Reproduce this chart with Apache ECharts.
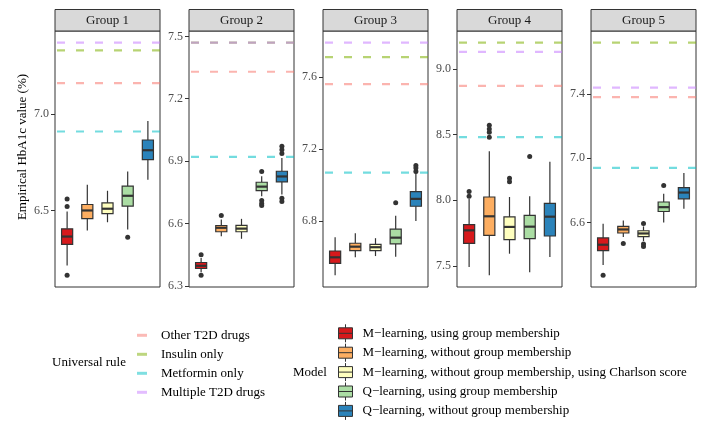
<!DOCTYPE html>
<html><head><meta charset="utf-8">
<script src="https://cdn.jsdelivr.net/npm/echarts@6.0.0/dist/echarts.min.js"></script>
<style>html,body{margin:0;padding:0;background:#fff}#c{width:716px;height:421px}</style>
</head><body><div id="c"></div>
<script>
// ---- data ----
const groups = ['Group 1', 'Group 2', 'Group 3', 'Group 4', 'Group 5'];
const models = [
  'M\u2212learning, using group membership',
  'M\u2212learning, without group membership',
  'M\u2212learning, without group membership, using Charlson score',
  'Q\u2212learning, using group membership',
  'Q\u2212learning, without group membership'
];
const ruleNames = ['Other T2D drugs', 'Insulin only', 'Metformin only', 'Multiple T2D drugs'];
// reference value of each universal rule, one per group
const ruleOther     = [7.16, 7.33, 7.56, 8.87, 7.38];
const ruleInsulin   = [7.33, 7.47, 7.71, 9.20, 7.72];
const ruleMetformin = [6.91, 6.92, 7.07, 8.48, 6.94];
const ruleMultiple  = [7.37, 7.47, 7.79, 9.13, 7.44];
// box statistics per model: [lower whisker, Q1, median, Q3, upper whisker]
const g1Box = [[6.216, 6.325, 6.366, 6.406, 6.496], [6.397, 6.459, 6.501, 6.532, 6.634], [6.440, 6.485, 6.510, 6.540, 6.603], [6.402, 6.524, 6.577, 6.627, 6.703], [6.660, 6.764, 6.813, 6.866, 6.964]];
const g2Box = [[6.365, 6.383, 6.396, 6.412, 6.433], [6.538, 6.560, 6.579, 6.590, 6.619], [6.526, 6.560, 6.575, 6.591, 6.622], [6.731, 6.758, 6.777, 6.798, 6.827], [6.739, 6.800, 6.826, 6.851, 6.915]];
const g3Box = [[6.500, 6.567, 6.600, 6.635, 6.711], [6.600, 6.637, 6.659, 6.678, 6.733], [6.607, 6.637, 6.656, 6.672, 6.706], [6.603, 6.674, 6.709, 6.756, 6.831], [6.802, 6.883, 6.924, 6.964, 7.067]];
const g4Box = [[7.491, 7.671, 7.770, 7.813, 8.011], [7.427, 7.732, 7.877, 8.024, 8.372], [7.592, 7.699, 7.796, 7.872, 8.024], [7.450, 7.707, 7.798, 7.884, 8.029], [7.567, 7.727, 7.874, 7.976, 8.293]];
const g5Box = [[6.335, 6.424, 6.461, 6.503, 6.592], [6.509, 6.534, 6.556, 6.575, 6.612], [6.484, 6.511, 6.531, 6.548, 6.575], [6.600, 6.668, 6.695, 6.727, 6.778], [6.685, 6.747, 6.786, 6.817, 6.907]];
// outliers per model
const g1Out = [[6.560, 6.521, 6.165], [], [], [6.362], []];
const g2Out = [[6.449, 6.350], [6.638], [], [6.850, 6.710, 6.696, 6.686], [6.971, 6.955, 6.936, 6.721, 6.705]];
const g3Out = [[], [], [], [6.903], [7.109, 7.095, 7.076]];
const g4Out = [[8.065, 8.029], [8.570, 8.543, 8.517, 8.479], [8.166, 8.141], [8.332], []];
const g5Out = [[6.270], [6.469], [6.593, 6.465, 6.450], [6.830], []];
// y tick labels per group
const g1Ticks = [6.5, 7.0];
const g2Ticks = [6.3, 6.6, 6.9, 7.2, 7.5];
const g3Ticks = [6.8, 7.2, 7.6];
const g4Ticks = [7.5, 8.0, 8.5, 9.0];
const g5Ticks = [6.6, 7.0, 7.4];

// ---- assembly ----
const ruleValues = [ruleOther, ruleInsulin, ruleMetformin, ruleMultiple];
const boxStats = [g1Box, g2Box, g3Box, g4Box, g5Box];
const outliers = [g1Out, g2Out, g3Out, g4Out, g5Out];
const ticks = [g1Ticks, g2Ticks, g3Ticks, g4Ticks, g5Ticks];

// ---- styling / layout ----
const serif = "'Liberation Serif', 'DejaVu Serif', serif";
const ruleColors = ['#F8766D', '#7CAE00', '#00BFC4', '#C77CFF'];
const rulePale = ['#FBBAB6', '#BDD67F', '#7FDFE1', '#E3BDFF'];
const modelColors = ['#D7191C', '#FDAE61', '#FFFFBF', '#ABDDA4', '#2B83BA'];
const panelLeft = [55, 189, 323, 457, 591];
const panelWidth = 105;
const plotTop = 31;
const plotHeight = 256;
const xMin = 0.4, xMax = 5.6;

function yRange(gi) {
  const vals = [];
  boxStats[gi].forEach(s => vals.push(...s));
  outliers[gi].forEach(a => vals.push(...a));
  ruleValues.forEach(r => vals.push(r[gi]));
  const lo = Math.min(...vals), hi = Math.max(...vals);
  const pad = (hi - lo) * 0.05;
  return [lo - pad, hi + pad];
}

function renderBox(params, api) {
  const x = api.value(0);
  const c = v => api.coord([x, v]);
  const lo = c(api.value(1)), q1 = c(api.value(2)), md = c(api.value(3)), q3 = c(api.value(4)), hi = c(api.value(5));
  const hw = api.size([0.55, 0])[0] / 2;
  const px = lo[0];
  const fill = api.visual('color');
  const ln = { stroke: '#333', lineWidth: 1.2 };
  return {
    type: 'group',
    children: [
      { type: 'line', shape: { x1: px, y1: hi[1], x2: px, y2: q3[1] }, style: ln },
      { type: 'line', shape: { x1: px, y1: q1[1], x2: px, y2: lo[1] }, style: ln },
      { type: 'rect', shape: { x: px - hw, y: q3[1], width: 2 * hw, height: q1[1] - q3[1] }, style: { fill: fill, stroke: '#333', lineWidth: 1.2 } },
      { type: 'line', shape: { x1: px - hw, y1: md[1], x2: px + hw, y2: md[1] }, style: { stroke: '#333', lineWidth: 2.2 } }
    ]
  };
}

const series = [];
groups.forEach((g, gi) => {
  ruleNames.forEach((rn, ri) => {
    const v = ruleValues[ri][gi];
    series.push({
      type: 'line', name: rn, xAxisIndex: gi, yAxisIndex: gi, z: 1, silent: true,
      symbol: 'none', data: [[xMin, v], [xMax, v]],
      itemStyle: { color: ruleColors[ri] },
      lineStyle: { color: ruleColors[ri], width: 2.2, type: [8, 11], dashOffset: 17, opacity: 0.55 }
    });
  });
  models.forEach((m, mi) => {
    series.push({
      type: 'custom', name: m, xAxisIndex: gi, yAxisIndex: gi, z: 3,
      itemStyle: { color: modelColors[mi] },
      encode: { x: 0, y: [1, 2, 3, 4, 5] },
      data: [[mi + 1].concat(boxStats[gi][mi])],
      renderItem: renderBox
    });
  });
  const pts = [];
  outliers[gi].forEach((arr, mi) => arr.forEach(v => pts.push([mi + 1, v])));
  series.push({
    type: 'scatter', name: 'Outliers ' + g, xAxisIndex: gi, yAxisIndex: gi, z: 4, silent: true,
    symbolSize: 5, itemStyle: { color: '#333', opacity: 1 }, data: pts
  });
});

const glyph = 'path://M7,0L7,3.5M0,3.5L14,3.5L14,14.5L0,14.5ZM0,9L14,9M7,14.5L7,18';

const graphic = [];
groups.forEach((g, gi) => {
  graphic.push({ type: 'rect', z: 10, shape: { x: panelLeft[gi], y: 9.5, width: panelWidth, height: 21.5 }, style: { fill: '#D9D9D9', stroke: '#333', lineWidth: 1 } });
  graphic.push({ type: 'text', z: 11, x: panelLeft[gi] + panelWidth / 2, y: 20.7, style: { text: g, align: 'center', verticalAlign: 'middle', fontSize: 13, fontFamily: serif, fill: '#1a1a1a' } });
});
graphic.push({ type: 'text', x: 23, y: 147, rotation: Math.PI / 2, style: { text: 'Empirical HbA1c value (%)', align: 'center', verticalAlign: 'middle', fontSize: 13, fontFamily: serif, fill: '#000' } });
graphic.push({ type: 'text', x: 52, y: 363, style: { text: 'Universal rule', align: 'left', verticalAlign: 'middle', fontSize: 13, fontFamily: serif, fill: '#000' } });
graphic.push({ type: 'text', x: 293, y: 373, style: { text: 'Model', align: 'left', verticalAlign: 'middle', fontSize: 13, fontFamily: serif, fill: '#000' } });

const option = {
  animation: false,
  backgroundColor: '#fff',
  grid: panelLeft.map(l => ({ left: l, top: plotTop, width: panelWidth, height: plotHeight, show: true, borderColor: '#333', borderWidth: 1, backgroundColor: '#fff' })),
  xAxis: groups.map((g, gi) => ({ type: 'value', gridIndex: gi, min: xMin, max: xMax, show: false })),
  yAxis: groups.map((g, gi) => {
    const r = yRange(gi);
    return {
      type: 'value', gridIndex: gi, min: r[0], max: r[1],
      axisLine: { show: false }, splitLine: { show: false },
      axisTick: { show: true, length: 4, lineStyle: { color: '#333', width: 1 }, customValues: ticks[gi] },
      axisLabel: { customValues: ticks[gi], formatter: v => v.toFixed(1), color: '#4D4D4D', fontSize: 12, fontFamily: serif, margin: 6 }
    };
  }),
  legend: [
    {
      orient: 'vertical', left: 137, top: 328.3, height: 90, padding: 0, itemWidth: 10, itemHeight: 3, itemGap: 5,
      selectedMode: false,
      data: ruleNames.map((n, i) => ({ name: n, icon: 'rect', itemStyle: { color: rulePale[i], borderWidth: 0, opacity: 1 } })),
      textStyle: { fontFamily: serif, fontSize: 13, color: '#000', lineHeight: 14, padding: [0, 0, 0, 9] }
    },
    {
      orient: 'vertical', left: 338, top: 323.8, height: 120, padding: 0, itemWidth: 14, itemHeight: 18, itemGap: 0.4,
      selectedMode: false,
      data: models.map((n, i) => ({ name: n, icon: glyph, itemStyle: { color: modelColors[i], borderColor: '#333', borderWidth: 1, opacity: 1 } })),
      textStyle: { fontFamily: serif, fontSize: 13, color: '#000', lineHeight: 14, padding: [0, 0, 0, 5] }
    }
  ],
  graphic: graphic,
  series: series
};

const chart = echarts.init(document.getElementById('c'), null, { renderer: 'canvas' });
chart.setOption(option);
</script></body></html>
